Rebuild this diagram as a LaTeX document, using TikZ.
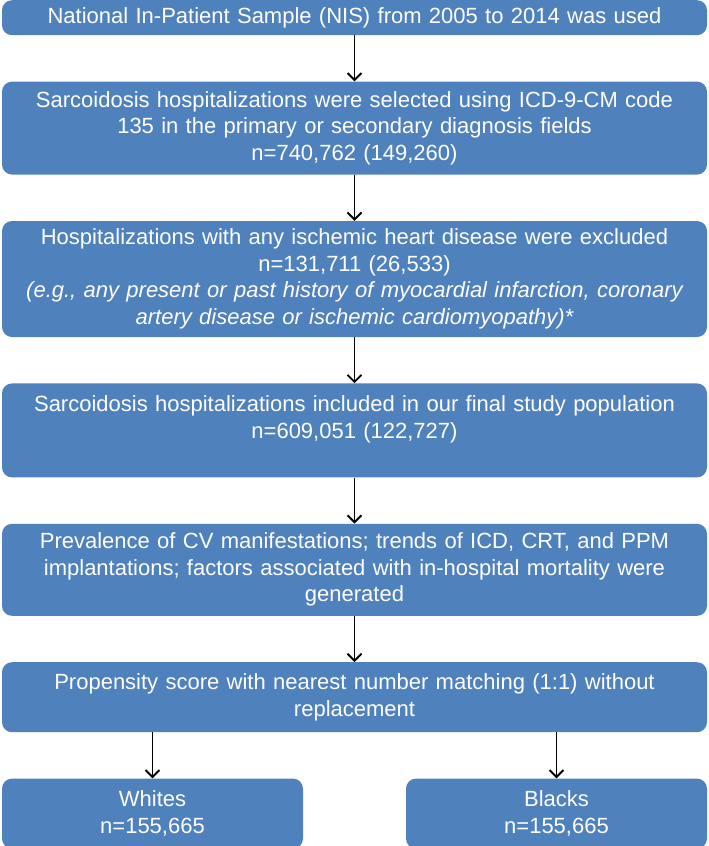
\documentclass[tikz,border=0pt]{standalone}
\usepackage{fontspec}
\setmainfont{Liberation Sans}
\usetikzlibrary{positioning,arrows.meta}
\definecolor{boxblue}{HTML}{4F81BD}

\begin{document}
\begin{tikzpicture}[x=1pt, y=1pt, node distance=46pt,
  stage/.style={fill=boxblue, text=white, rounded corners=10pt, inner sep=0pt,
    minimum width=705pt, text width=700pt, align=center,
    font=\fontsize{22}{26.5}\selectfont},
  group/.style={stage, minimum width=301pt, text width=295pt, minimum height=70pt},
  flow/.style={-{Straight Barb[length=7pt,width=14pt]}, line width=1.9pt}]
  \useasboundingbox (0,0) rectangle (709,-846);
  \node[stage, minimum height=35pt, anchor=north] (nis) at (354.5,0)
    {National In-Patient Sample (NIS) from 2005 to 2014 was used};
  \node[stage, minimum height=93pt, below=of nis] (select)
    {Sarcoidosis hospitalizations were selected using ICD-9-CM code\\
     135 in the primary or secondary diagnosis fields\\
     n=740,762 (149,260)};
  \node[stage, minimum height=116pt, below=of select] (exclude)
    {Hospitalizations with any ischemic heart disease were excluded\\
     n=131,711 (26,533)\\
     {\itshape (e.g., any present or past history of myocardial infarction, coronary}\\
     {\itshape artery disease or ischemic cardiomyopathy)*}};
  \node[stage, minimum height=94pt, below=of exclude] (final)
    {Sarcoidosis hospitalizations included in our final study population\\
     n=609,051 (122,727)\\ ~};
  \node[stage, minimum height=92pt, below=of final] (outcome)
    {Prevalence of CV manifestations; trends of ICD, CRT, and PPM\\
     implantations; factors associated with in-hospital mortality were\\
     generated};
  \node[stage, minimum height=70pt, below=of outcome] (match)
    {Propensity score with nearest number matching (1:1) without\\
     replacement};
  \node[group, below=of match.south west, anchor=north west] (whites)
    {Whites\\n=155,665};
  \node[group, below=of match.south east, anchor=north east] (blacks)
    {Blacks\\n=155,665};

  \path[flow]
  (nis) edge (select)
  (select) edge (exclude)
  (exclude) edge (final)
  (final) edge (outcome)
  (outcome) edge (match)
  (whites.north |- match.south) edge (whites)
  (blacks.north |- match.south) edge (blacks);
\end{tikzpicture}
\end{document}
